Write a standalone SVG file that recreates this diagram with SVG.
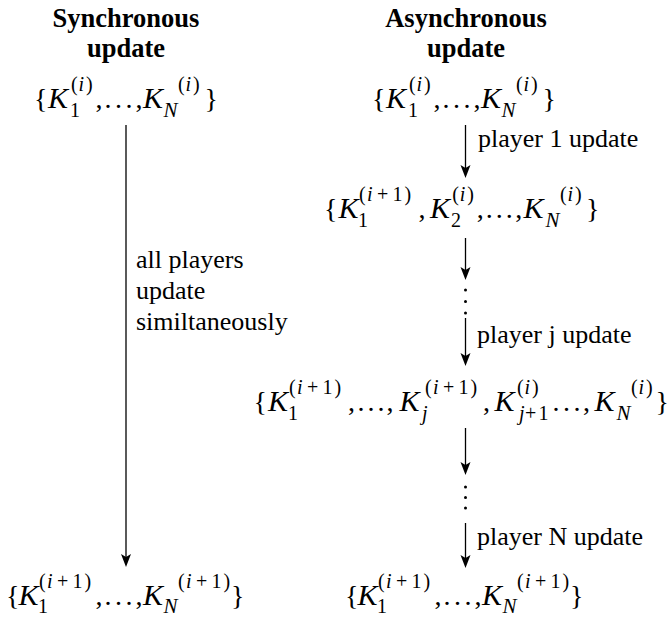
<svg xmlns="http://www.w3.org/2000/svg" width="671" height="619" viewBox="0 0 671 619">
<style>
text{font-family:"Liberation Serif","Times New Roman",serif;fill:#000}
.h{font-size:26.5px;font-weight:bold;text-anchor:middle}
.t{font-size:26px}
.m{font-size:28px}
.K{font-size:30px;font-style:italic}
.s{font-size:20px}
.si{font-size:20px;font-style:italic}
.sN{font-size:21px;font-style:italic}
.ar{stroke:#000;stroke-width:1.3;fill:none;marker-end:url(#ah)}
.dot{fill:#000}
</style>
<defs>
<marker id="ah" markerUnits="userSpaceOnUse" markerWidth="15" markerHeight="11" viewBox="-14 -5.5 15 11" refX="-4" refY="0" orient="auto">
<path d="M0,0 L-13,-5 L-10,0 L-13,5 Z" fill="#000"/>
</marker>
</defs>
<rect width="671" height="619" fill="#fff"/>

<g id="title-sync">
<text class="h" x="126" y="27">Synchronous</text>
<text class="h" x="126" y="57">update</text>
</g>
<g id="title-async">
<text class="h" x="466" y="27">Asynchronous</text>
<text class="h" x="466" y="57">update</text>
</g>

<g id="sync-start">
<text class="m"><tspan x="34" y="108">{</tspan><tspan class="K" x="48" y="108">K</tspan><tspan class="s" x="70" y="117">1</tspan><tspan class="s" x="71" y="91">(</tspan><tspan class="si" x="78.5" y="91">i</tspan><tspan class="s" x="86" y="91">)</tspan><tspan x="95.5" y="108">,</tspan><tspan x="104.5" y="108">.</tspan><tspan x="115" y="108">.</tspan><tspan x="125.5" y="108">.</tspan><tspan x="135.5" y="108">,</tspan><tspan class="K" x="143" y="108">K</tspan><tspan class="sN" x="163.5" y="117">N</tspan><tspan class="s" x="178" y="91">(</tspan><tspan class="si" x="185.5" y="91">i</tspan><tspan class="s" x="193" y="91">)</tspan><tspan x="204.5" y="108">}</tspan></text>
</g>

<g id="sync-end">
<text class="m"><tspan x="6" y="605">{</tspan><tspan class="K" x="18.5" y="605">K</tspan><tspan class="s" x="38" y="613">1</tspan><tspan class="s" x="39" y="588">(</tspan><tspan class="si" x="47" y="588">i</tspan><tspan class="s" x="57" y="588">+</tspan><tspan class="s" x="72.5" y="588">1</tspan><tspan class="s" x="84.5" y="588">)</tspan><tspan x="95.5" y="605">,</tspan><tspan x="104.5" y="605">.</tspan><tspan x="115" y="605">.</tspan><tspan x="125.5" y="605">.</tspan><tspan x="135.5" y="605">,</tspan><tspan class="K" x="143" y="605">K</tspan><tspan class="sN" x="163.5" y="613">N</tspan><tspan class="s" x="178" y="588">(</tspan><tspan class="si" x="186" y="588">i</tspan><tspan class="s" x="196" y="588">+</tspan><tspan class="s" x="211.5" y="588">1</tspan><tspan class="s" x="223.5" y="588">)</tspan><tspan x="231" y="605">}</tspan></text>
</g>

<g id="async-start">
<text class="m"><tspan x="372" y="108">{</tspan><tspan class="K" x="386" y="108">K</tspan><tspan class="s" x="408" y="117">1</tspan><tspan class="s" x="409" y="91">(</tspan><tspan class="si" x="416.5" y="91">i</tspan><tspan class="s" x="424" y="91">)</tspan><tspan x="433.5" y="108">,</tspan><tspan x="442.5" y="108">.</tspan><tspan x="453" y="108">.</tspan><tspan x="463.5" y="108">.</tspan><tspan x="473.5" y="108">,</tspan><tspan class="K" x="481" y="108">K</tspan><tspan class="sN" x="501.5" y="117">N</tspan><tspan class="s" x="516" y="91">(</tspan><tspan class="si" x="523.5" y="91">i</tspan><tspan class="s" x="531" y="91">)</tspan><tspan x="542.5" y="108">}</tspan></text>
</g>

<g id="async-step1">
<text class="m"><tspan x="324" y="218">{</tspan><tspan class="K" x="338.5" y="218">K</tspan><tspan class="s" x="358" y="227">1</tspan><tspan class="s" x="359" y="201">(</tspan><tspan class="si" x="367" y="201">i</tspan><tspan class="s" x="377" y="201">+</tspan><tspan class="s" x="392.5" y="201">1</tspan><tspan class="s" x="404.5" y="201">)</tspan><tspan x="418.5" y="218">,</tspan><tspan class="K" x="430" y="218">K</tspan><tspan class="s" x="451" y="227">2</tspan><tspan class="s" x="452.3" y="201">(</tspan><tspan class="si" x="459.8" y="201">i</tspan><tspan class="s" x="467.3" y="201">)</tspan><tspan x="476.8" y="218">,</tspan><tspan x="485.8" y="218">.</tspan><tspan x="495.8" y="218">.</tspan><tspan x="505.8" y="218">.</tspan><tspan x="515.2" y="218">,</tspan><tspan class="K" x="523.5" y="218">K</tspan><tspan class="sN" x="545.5" y="227">N</tspan><tspan class="s" x="560" y="201">(</tspan><tspan class="si" x="567.5" y="201">i</tspan><tspan class="s" x="575" y="201">)</tspan><tspan x="586" y="218">}</tspan></text>
</g>

<g id="async-stepj">
<text class="m"><tspan x="253.5" y="411">{</tspan><tspan class="K" x="268" y="411">K</tspan><tspan class="s" x="288" y="420">1</tspan><tspan class="s" x="289" y="394">(</tspan><tspan class="si" x="297" y="394">i</tspan><tspan class="s" x="307" y="394">+</tspan><tspan class="s" x="322.5" y="394">1</tspan><tspan class="s" x="334.5" y="394">)</tspan><tspan x="348" y="411">,</tspan><tspan x="357.5" y="411">.</tspan><tspan x="367.5" y="411">.</tspan><tspan x="377.5" y="411">.</tspan><tspan x="386.5" y="411">,</tspan><tspan class="K" x="399.5" y="411">K</tspan><tspan class="si" x="422" y="420">j</tspan><tspan class="s" x="425" y="394">(</tspan><tspan class="si" x="433" y="394">i</tspan><tspan class="s" x="443" y="394">+</tspan><tspan class="s" x="458.5" y="394">1</tspan><tspan class="s" x="470.5" y="394">)</tspan><tspan x="483" y="411">,</tspan><tspan class="K" x="494.5" y="411">K</tspan><tspan class="si" x="519" y="420">j</tspan><tspan class="s" x="525" y="420">+</tspan><tspan class="s" x="538.5" y="420">1</tspan><tspan class="s" x="517" y="394">(</tspan><tspan class="si" x="524.5" y="394">i</tspan><tspan class="s" x="532" y="394">)</tspan><tspan x="552.5" y="411">.</tspan><tspan x="563" y="411">.</tspan><tspan x="573.5" y="411">.</tspan><tspan x="583" y="411">,</tspan><tspan class="K" x="594.5" y="411">K</tspan><tspan class="sN" x="616.5" y="420">N</tspan><tspan class="s" x="631" y="394">(</tspan><tspan class="si" x="638.5" y="394">i</tspan><tspan class="s" x="646" y="394">)</tspan><tspan x="655.5" y="411">}</tspan></text>
</g>

<g id="async-end">
<text class="m"><tspan x="345" y="605">{</tspan><tspan class="K" x="357.5" y="605">K</tspan><tspan class="s" x="377" y="613">1</tspan><tspan class="s" x="378" y="588">(</tspan><tspan class="si" x="386" y="588">i</tspan><tspan class="s" x="396" y="588">+</tspan><tspan class="s" x="411.5" y="588">1</tspan><tspan class="s" x="423.5" y="588">)</tspan><tspan x="434.5" y="605">,</tspan><tspan x="443.5" y="605">.</tspan><tspan x="454" y="605">.</tspan><tspan x="464.5" y="605">.</tspan><tspan x="474.5" y="605">,</tspan><tspan class="K" x="482" y="605">K</tspan><tspan class="sN" x="502.5" y="613">N</tspan><tspan class="s" x="517" y="588">(</tspan><tspan class="si" x="525" y="588">i</tspan><tspan class="s" x="535" y="588">+</tspan><tspan class="s" x="550.5" y="588">1</tspan><tspan class="s" x="562.5" y="588">)</tspan><tspan x="570" y="605">}</tspan></text>
</g>

<g id="connectors">
<line class="ar" x1="126" y1="125" x2="126" y2="563"/>
<line class="ar" x1="465.5" y1="125" x2="465.5" y2="174"/>
<line class="ar" x1="465.5" y1="238" x2="465.5" y2="276"/>
<line class="ar" x1="465.5" y1="318" x2="465.5" y2="362"/>
<line class="ar" x1="465.5" y1="428" x2="465.5" y2="471"/>
<line class="ar" x1="465.5" y1="523" x2="465.5" y2="564"/>
<circle class="dot" cx="465.5" cy="290" r="1.5"/>
<circle class="dot" cx="465.5" cy="301.5" r="1.5"/>
<circle class="dot" cx="465.5" cy="313" r="1.5"/>
<circle class="dot" cx="465.5" cy="487" r="1.5"/>
<circle class="dot" cx="465.5" cy="497.5" r="1.5"/>
<circle class="dot" cx="465.5" cy="508" r="1.5"/>
</g>

<g id="labels">
<text class="t" x="136" y="268">all players</text>
<text class="t" x="136" y="299">update</text>
<text class="t" x="136" y="330">similtaneously</text>
<text class="t" x="478" y="147">player 1 update</text>
<text class="t" x="477" y="343">player j update</text>
<text class="t" x="477" y="545">player N update</text>
</g>
</svg>
